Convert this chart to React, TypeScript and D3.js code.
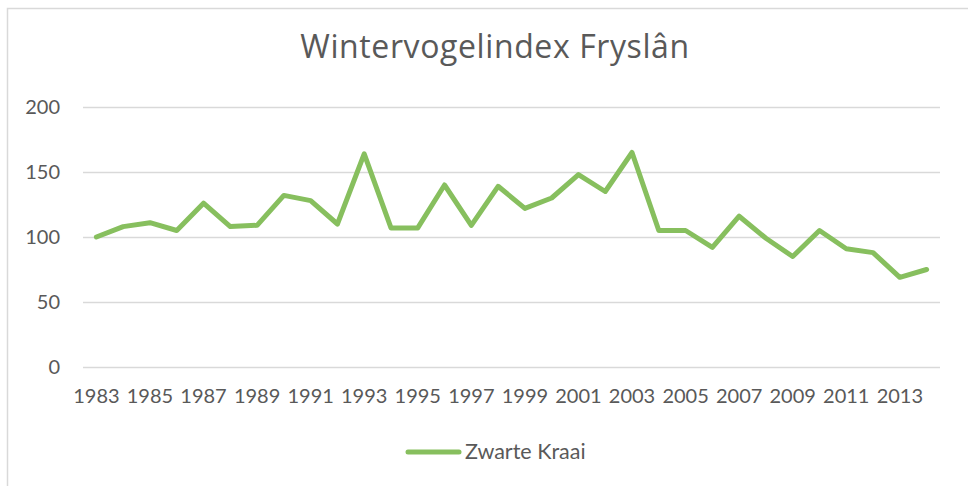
import React, { useEffect, useRef } from 'react';
import * as d3 from 'd3';

// Wintervogelindex Fryslân - Zwarte Kraai (index, 1983 = 100)
const years = d3.range(1983, 2015).map(String);
const kraaiValues = [
  100, 108, 111, 105, 126, 108, 109, 132, 128, 110,
  164, 107, 107, 140, 109, 139, 122, 130, 148, 135,
  165, 105, 105, 92, 116, 99, 85, 105, 91, 88,
  69, 75,
];
const yTicks = [0, 50, 100, 150, 200];
const xTickLabels = years.filter((_, i) => i % 2 === 0);
const seriesName = 'Zwarte Kraai';
const chartTitle = 'Wintervogelindex Fryslân';

const W = 968;
const H = 486;
const FONT = 'Lato, "Open Sans", sans-serif';
const TEXT = '#595959';
const GREEN = '#87bf5e';

const App: React.FC = () => {
  const svgRef = useRef<SVGSVGElement | null>(null);

  useEffect(() => {
    if (!svgRef.current) return;
    const svg = d3.select(svgRef.current);
    svg.selectAll('*').remove();

    const margin = { top: 107, right: 28, bottom: 119, left: 83 };

    // outer chart border
    svg.append('rect')
      .attr('x', 7.5).attr('y', 8.5)
      .attr('width', W).attr('height', H)
      .attr('fill', '#fff')
      .attr('stroke', '#d9d9d9')
      .attr('stroke-width', 1.5);

    svg.append('text')
      .attr('x', 495).attr('y', 58)
      .attr('text-anchor', 'middle')
      .attr('font-family', '"Open Sans", sans-serif')
      .attr('font-size', 32)
      .attr('letter-spacing', 0.6)
      .attr('fill', TEXT)
      .text(chartTitle);

    const x = d3.scaleBand()
      .domain(years)
      .range([margin.left, W - margin.right]);

    const y = d3.scaleLinear()
      .domain([0, 200])
      .range([H - margin.bottom, margin.top]);

    // gridlines
    svg.append('g')
      .selectAll('line')
      .data(yTicks)
      .join('line')
      .attr('x1', margin.left)
      .attr('x2', W - margin.right)
      .attr('y1', d => Math.round(y(d)) + 0.5)
      .attr('y2', d => Math.round(y(d)) + 0.5)
      .attr('stroke', '#d9d9d9')
      .attr('stroke-width', 1.3);

    // y labels
    svg.append('g')
      .selectAll('text')
      .data(yTicks)
      .join('text')
      .attr('x', 60)
      .attr('y', d => y(d))
      .attr('dy', '0.36em')
      .attr('text-anchor', 'end')
      .attr('font-family', FONT)
      .attr('font-size', 20)
      .attr('fill', TEXT)
      .text(d => d);

    // x labels
    svg.append('g')
      .selectAll('text')
      .data(xTickLabels)
      .join('text')
      .attr('x', d => x(d)! + x.bandwidth() / 2)
      .attr('y', 403)
      .attr('text-anchor', 'middle')
      .attr('font-family', FONT)
      .attr('font-size', 20)
      .attr('fill', TEXT)
      .text(d => d);

    const line = d3.line<number>()
      .x((_, i) => x(years[i])! + x.bandwidth() / 2)
      .y(d => y(d));

    svg.append('path')
      .datum(kraaiValues)
      .attr('fill', 'none')
      .attr('stroke', GREEN)
      .attr('stroke-width', 5)
      .attr('stroke-linejoin', 'round')
      .attr('stroke-linecap', 'round')
      .attr('d', line);

    // legend
    const lg = svg.append('g');
    lg.append('line')
      .attr('x1', 408).attr('x2', 459)
      .attr('y1', 452).attr('y2', 452)
      .attr('stroke', GREEN)
      .attr('stroke-width', 5)
      .attr('stroke-linecap', 'round');
    lg.append('text')
      .attr('x', 465).attr('y', 459)
      .attr('font-family', FONT)
      .attr('font-size', 21.5)
      .attr('fill', TEXT)
      .text(seriesName);
  }, []);

  return (
    <svg
      ref={svgRef}
      width={W}
      height={H}
      style={{ position: 'absolute', left: 0, top: 0, background: '#fff' }}
    />
  );
};

export default App;
